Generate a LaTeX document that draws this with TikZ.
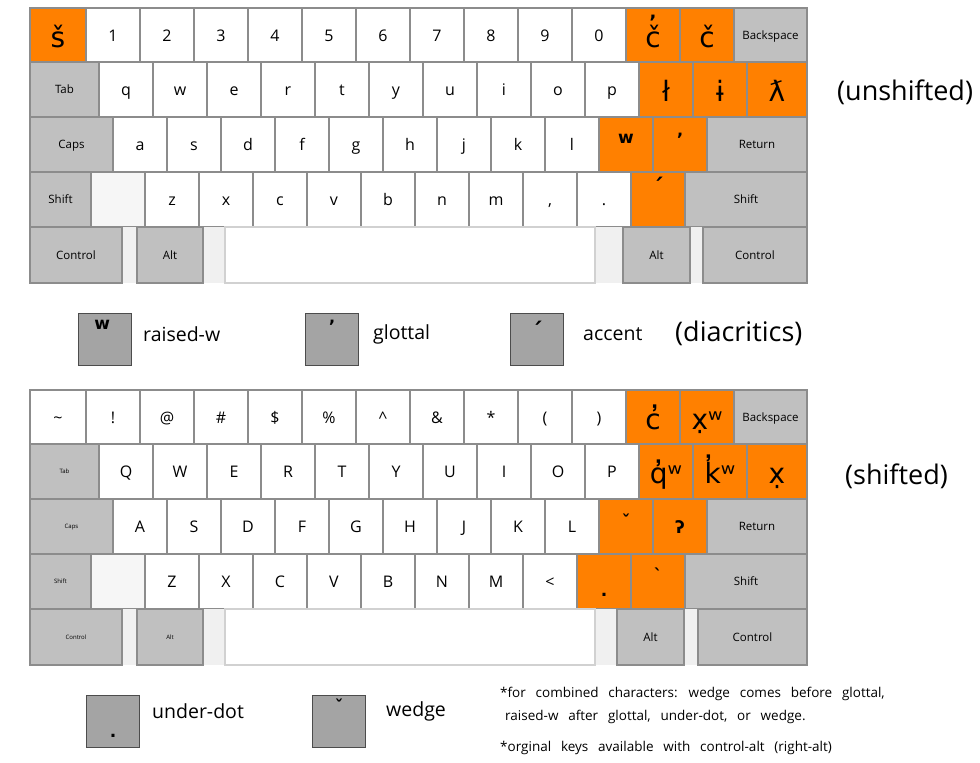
\documentclass[tikz,border=0pt]{standalone}
\usepackage{fontspec}
\setmainfont{Open Sans}
\newfontfamily\dv{DejaVu Sans}
\newfontfamily\notefont{Open Sans}[WordSpace=2.8]
\definecolor{kor}{HTML}{FF8000}
\definecolor{kgr}{HTML}{C0C0C0}
\definecolor{kbd}{HTML}{8C8C8C}
\definecolor{kgap}{HTML}{F0F0F0}
\definecolor{lgk}{HTML}{A4A4A4}
\tikzset{
  keybase/.style={draw=kbd, line width=1.1pt, inner sep=0pt, outer sep=0pt, anchor=north west,
    text height=12pt, text depth=0pt, font=\fontsize{16}{16}\selectfont},
  wk/.style={keybase, fill=white},
  gk/.style={keybase, fill=kgr, text height=8pt, font=\fontsize{11.5}{12}\selectfont},
  tk/.style={keybase, fill=kgr, text height=4pt, font=\fontsize{6}{6}\selectfont},
  ok/.style={keybase, fill=kor, text height=24pt, font=\dv\fontsize{28}{28}\selectfont},
  bk/.style={keybase, fill=kgap!60},
  sp/.style={keybase, fill=white, draw=kbd!40},
  dia/.style={anchor=base, inner sep=0pt, font=\dv\bfseries\fontsize{17}{17}\selectfont},
  acc/.style={anchor=base, inner sep=0pt, font=\dv\bfseries\fontsize{23}{23}\selectfont},
  lgkey/.style={draw=black!70, line width=1.3pt, fill=lgk, inner sep=0pt, anchor=north west,
    minimum width=53pt, minimum height=52pt},
  lgtxt/.style={anchor=west, inner sep=0pt, font=\fontsize{19.5}{20}\selectfont},
  side/.style={anchor=west, inner sep=0pt, font=\fontsize{27}{27}\selectfont},
  note/.style={anchor=base west, inner sep=0pt, font=\notefont\fontsize{13.5}{14}\selectfont}
}
\newcommand\key[7]{\node[#6, minimum width={(#3-#2)*1pt}, minimum height={(#5-#4)*1pt}] (#1) at (#2,#4) {#7};}
\newcommand\commacaron{\ooalign{č\cr\hidewidth\raisebox{29pt}{\fontsize{18}{18}\selectfont\bfseries ,}\hidewidth\cr}}
\begin{document}
\begin{tikzpicture}[x=1pt,y=-1pt]
\useasboundingbox (0,0) rectangle (980,763);
% ================= TOP (unshifted) =================
% row 1
\key{t00}{30}{86}{8}{62}{ok}{š}
\foreach \l [count=\i from 0] in {1,2,3,4,5,6,7,8,9,0}
  {\node[wk, minimum width=54pt, minimum height=54pt] (t1\i) at ({86+54*\i},8) {\l};}
\key{t1a}{626}{680}{8}{62}{ok}{\commacaron}
\key{t1b}{680}{734}{8}{62}{ok}{č}
\key{t1c}{734}{807}{8}{62}{gk}{Backspace}
% row 2
\key{t20}{30}{99}{62}{117}{gk}{Tab}
\foreach \l [count=\i from 0] in {q,w,e,r,t,y,u,i,o,p}
  {\node[wk, minimum width=54pt, minimum height=55pt] (t2\i) at ({99+54*\i},62) {\l};}
\key{t2a}{639}{693}{62}{117}{ok}{ł}
\key{t2b}{693}{747}{62}{117}{ok}{ɨ}
\key{t2c}{747}{807}{62}{117}{ok}{ƛ}
% row 3
\key{t30}{30}{113}{117}{172}{gk}{Caps}
\foreach \l [count=\i from 0] in {a,s,d,f,g,h,j,k,l}
  {\node[wk, minimum width=54pt, minimum height=55pt] (t3\i) at ({113+54*\i},117) {\l};}
\key{t3a}{599}{653}{117}{172}{ok}{}
\key{t3b}{653}{707}{117}{172}{ok}{}
\key{t3c}{707}{807}{117}{172}{gk}{Return}
\node[dia] (t3at) at ([yshift=1.5pt]t3a.center) {w};
\node[dia] (t3bt) at ([yshift=-1pt]t3b.center) {’};
% row 4
\key{t40}{30}{91}{172}{227}{gk}{Shift}
\key{t41}{91}{145}{172}{227}{bk}{}
\foreach \l [count=\i from 0] in {z,x,c,v,b,n,m}
  {\node[wk, minimum width=54pt, minimum height=55pt] (t4\i) at ({145+54*\i},172) {\l};}
\key{t4c}{523}{577}{172}{227}{wk}{,}
\key{t4d}{577}{631}{172}{227}{wk}{.}
\key{t4e}{631}{685}{172}{227}{ok}{}
\key{t4f}{685}{807}{172}{227}{gk}{Shift}
\node[acc] (t4et) at ([yshift=4pt]t4e.center) {´};
% row 5
\fill[kgap] (30,227) rectangle (807,283);
\key{t50}{30}{122}{227}{283}{gk}{Control}
\key{t51}{137}{203}{227}{283}{gk}{Alt}
\key{t52}{225}{595}{227}{283}{sp}{}
\key{t53}{623}{690}{227}{283}{gk}{Alt}
\key{t54}{703}{807}{227}{283}{gk}{Control}
\node[side] (unsh) at (837,92) {(unshifted)};
% ================= LEGEND 1 =================
\node[lgkey] (lg1) at (78,313) {};
\node[lgkey] (lg2) at (305,313) {};
\node[lgkey] (lg3) at (510,313) {};
\node[dia] (lg1t) at ([xshift=-3pt,yshift=10pt]lg1.center) {w};
\node[dia] (lg2t) at ([yshift=7pt]lg2.center) {’};
\node[acc] (lg3t) at ([yshift=0pt]lg3.center) {´};
\node[lgtxt] (lg1l) at (143,334) {raised-w};
\node[lgtxt] (lg2l) at (373,334) {glottal};
\node[lgtxt] (lg3l) at (583,334) {accent};
\node[side] (diac) at (675,333) {(diacritics)};
% ================= BOTTOM (shifted) =================
% row 1
\key{b10}{30}{86}{390}{444}{wk}{\textasciitilde}
\foreach \l [count=\i from 0] in {!,@,\#,\$,\%,\textasciicircum,\&,*,{(},{)}}
  {\node[wk, minimum width=54pt, minimum height=54pt] (b1\i) at ({86+54*\i},390) {\l};}
\key{b1a}{626}{680}{390}{444}{ok}{c̓}
\key{b1b}{680}{734}{390}{444}{ok}{x̣ʷ}
\key{b1c}{734}{807}{390}{444}{gk}{Backspace}
% row 2
\key{b20}{30}{99}{444}{499}{tk}{Tab}
\foreach \l [count=\i from 0] in {Q,W,E,R,T,Y,U,I,O,P}
  {\node[wk, minimum width=54pt, minimum height=55pt] (b2\i) at ({99+54*\i},444) {\l};}
\key{b2a}{639}{693}{444}{499}{ok}{q̓ʷ}
\key{b2b}{693}{747}{444}{499}{ok}{k̓ʷ}
\key{b2c}{747}{807}{444}{499}{ok}{x̣}
% row 3
\key{b30}{30}{113}{499}{554}{tk}{Caps}
\foreach \l [count=\i from 0] in {A,S,D,F,G,H,J,K,L}
  {\node[wk, minimum width=54pt, minimum height=55pt] (b3\i) at ({113+54*\i},499) {\l};}
\key{b3a}{599}{653}{499}{554}{ok}{}
\key{b3b}{653}{707}{499}{554}{ok}{}
\key{b3c}{707}{807}{499}{554}{gk}{Return}
\node[dia] (b3at) at ([yshift=-1pt]b3a.center) {ˇ};
\node[dia] (b3bt) at ([yshift=-6.5pt]b3b.center) {ʔ};
% row 4
\key{b40}{30}{91}{554}{609}{tk}{Shift}
\key{b41}{91}{145}{554}{609}{bk}{}
\foreach \l [count=\i from 0] in {Z,X,C,V,B,N,M}
  {\node[wk, minimum width=54pt, minimum height=55pt] (b4\i) at ({145+54*\i},554) {\l};}
\key{b4c}{523}{577}{554}{609}{wk}{<}
\key{b4d}{577}{631}{554}{609}{ok}{}
\key{b4e}{631}{685}{554}{609}{ok}{}
\key{b4f}{685}{807}{554}{609}{gk}{Shift}
\node[dia] (b4dt) at ([yshift=-15pt]b4d.center) {.};
\node[dia] (b4et) at ([yshift=0pt]b4e.center) {`};
% row 5
\fill[kgap] (30,609) rectangle (807,665);
\key{b50}{30}{122}{609}{665}{tk}{Control}
\key{b51}{137}{203}{609}{665}{tk}{Alt}
\key{b52}{225}{595}{609}{665}{sp}{}
\key{b53}{617}{684}{609}{665}{gk}{Alt}
\key{b54}{698}{807}{609}{665}{gk}{Control}
\node[side] (shft) at (845,476) {(shifted)};
% ================= LEGEND 2 =================
\node[lgkey] (lg4) at (86,695) {};
\node[lgkey] (lg5) at (312,695) {};
\node[dia] (lg4t) at ([yshift=-16pt]lg4.center) {.};
\node[dia] (lg5t) at ([yshift=9pt]lg5.center) {ˇ};
\node[lgtxt] (lg4l) at (152,711) {under-dot};
\node[lgtxt] (lg5l) at (386,711) {wedge};
% notes
\node[note] (n1) at (500,697) {*for combined characters: wedge comes before glottal,};
\node[note] (n2) at (505,720) {raised-w after glottal, under-dot, or wedge.};
\node[note] (n3) at (500,751) {*orginal keys available with control-alt (right-alt)};
\end{tikzpicture}
\end{document}
